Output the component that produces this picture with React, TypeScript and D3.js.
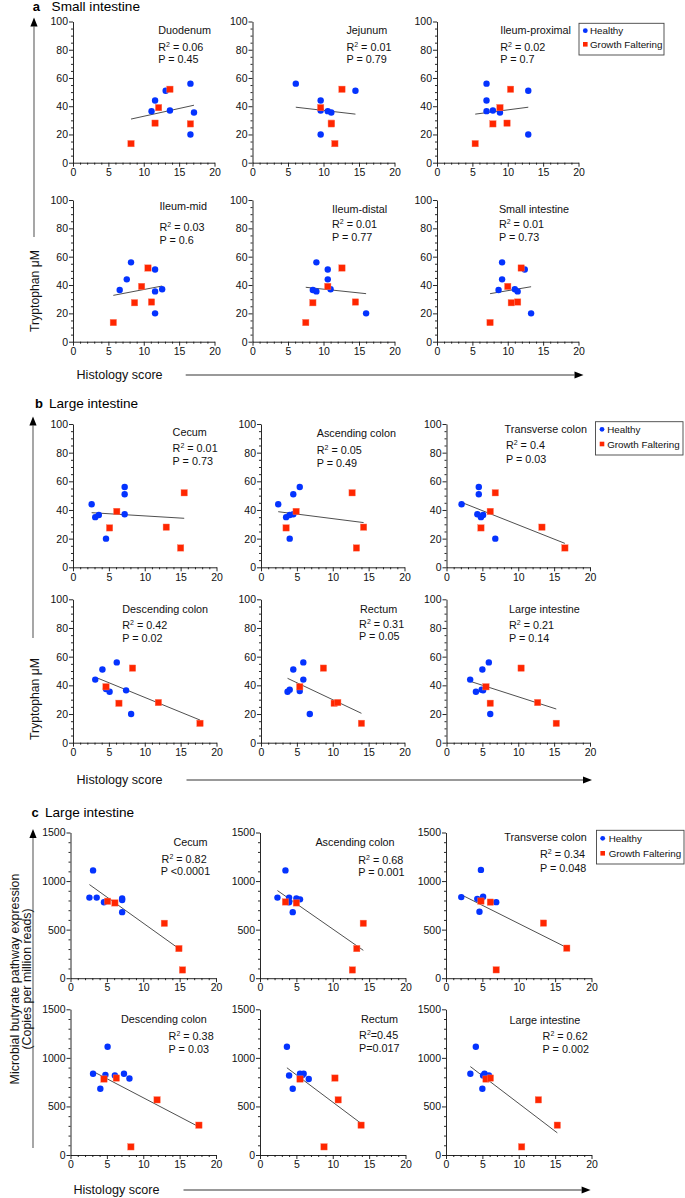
import React, { useEffect, useRef } from 'react';
import * as d3 from 'd3';

type Pt = [number, number];

// ---- a: tryptophan (uM) vs histology score, small intestine ----
const duodenumHealthy: Pt[] = [[11.1, 36.5], [11.6, 44], [13.1, 51], [13.7, 37], [16.6, 56], [17.1, 35.5], [16.6, 20]];
const duodenumFaltering: Pt[] = [[8.2, 13.5], [11.6, 28], [12.1, 39], [13.7, 52], [16.6, 27.5]];
const duodenumFit: Pt[] = [[8.2, 30.9], [17.1, 40.7]];

const jejunumHealthy: Pt[] = [[6.1, 56], [9.6, 44], [9.6, 37], [10.6, 36.5], [11.1, 35.5], [9.6, 20], [14.5, 51]];
const jejunumFaltering: Pt[] = [[9.6, 39], [11.1, 28], [11.1, 27.5], [11.6, 13.5], [12.6, 52]];
const jejunumFit: Pt[] = [[6.1, 39.3], [14.5, 34.4]];

const ileumProxHealthy: Pt[] = [[7.0, 56], [7.0, 44], [7.0, 36.5], [7.9, 37], [8.9, 35.5], [12.9, 51], [12.9, 20]];
const ileumProxFaltering: Pt[] = [[5.4, 13.5], [7.9, 27.5], [8.9, 39], [9.9, 28], [10.4, 52]];
const ileumProxFit: Pt[] = [[5.4, 34.4], [12.9, 39.3]];

const ileumMidHealthy: Pt[] = [[8.2, 56], [7.6, 44], [6.6, 36.5], [11.6, 51], [12.6, 37], [11.6, 35.5], [11.6, 20]];
const ileumMidFaltering: Pt[] = [[5.7, 13.5], [8.7, 27.5], [9.7, 39], [10.6, 52], [11.1, 28]];
const ileumMidFit: Pt[] = [[5.7, 32.7], [12.6, 39.3]];

const ileumDistHealthy: Pt[] = [[9.0, 56], [8.5, 36.5], [9.0, 35.5], [10.6, 51], [10.6, 44], [11.0, 37], [16.0, 20]];
const ileumDistFaltering: Pt[] = [[7.5, 13.5], [8.5, 27.5], [10.6, 39], [12.6, 52], [14.5, 28]];
const ileumDistFit: Pt[] = [[7.5, 38.4], [16.0, 33.9]];

const smallIntHealthy: Pt[] = [[8.7, 36.5], [9.2, 56], [9.2, 44], [11.0, 37], [11.4, 35.5], [12.4, 51], [13.3, 20]];
const smallIntFaltering: Pt[] = [[7.5, 13.5], [10.0, 39], [10.5, 27.5], [11.4, 28], [11.9, 52]];
const smallIntFit: Pt[] = [[7.5, 33.9], [13.3, 38.8]];

// ---- b: tryptophan (uM) vs histology score, large intestine ----
const cecumTrpHealthy: Pt[] = [[2.6, 44], [3.1, 35], [3.6, 36.5], [4.6, 20], [7.2, 56], [7.2, 51], [7.2, 37]];
const cecumTrpFaltering: Pt[] = [[5.1, 27.5], [6.1, 39], [13.0, 28], [15.0, 13.5], [15.5, 52]];
const cecumTrpFit: Pt[] = [[2.6, 38.1], [15.5, 34.2]];

const ascTrpHealthy: Pt[] = [[2.4, 44], [3.5, 35], [4.0, 36.5], [4.5, 37], [4.5, 51], [5.4, 56], [4.0, 20]];
const ascTrpFaltering: Pt[] = [[3.5, 27.5], [4.9, 39], [12.7, 52], [13.3, 13.5], [14.3, 28]];
const ascTrpFit: Pt[] = [[2.4, 38.8], [14.3, 31.2]];

const transTrpHealthy: Pt[] = [[2.1, 44], [4.5, 56], [4.5, 51], [4.3, 37], [4.8, 35], [5.1, 36.5], [6.8, 20]];
const transTrpFaltering: Pt[] = [[4.8, 27.5], [6.1, 39], [6.8, 52], [13.3, 28], [16.5, 13.5]];
const transTrpFit: Pt[] = [[2.1, 45.3], [16.5, 16.7]];

const descTrpHealthy: Pt[] = [[3.1, 44], [4.1, 51], [6.1, 56], [4.6, 37.5], [5.1, 35.5], [7.4, 36.5], [8.1, 20]];
const descTrpFaltering: Pt[] = [[4.6, 39], [6.4, 27.5], [8.3, 52], [11.9, 28], [17.7, 13.5]];
const descTrpFit: Pt[] = [[3.5, 44.9], [17.7, 15.8]];

const rectumTrpHealthy: Pt[] = [[3.7, 35.5], [4.0, 37], [4.5, 51], [5.4, 36], [5.9, 56], [5.9, 44], [6.8, 20]];
const rectumTrpFaltering: Pt[] = [[5.4, 39], [8.7, 52], [10.2, 27.5], [10.7, 28], [14.0, 13.5]];
const rectumTrpFit: Pt[] = [[3.7, 44.9], [14.0, 20.5]];

const largeTrpHealthy: Pt[] = [[3.3, 44], [4.1, 35.5], [5.0, 51], [5.1, 36.5], [4.9, 37], [5.9, 56], [6.1, 20]];
const largeTrpFaltering: Pt[] = [[5.5, 39], [6.1, 27.5], [10.4, 52], [12.7, 28], [15.3, 13.5]];
const largeTrpFit: Pt[] = [[3.3, 42.8], [15.3, 23.5]];

// ---- c: butyrate pathway (copies per million reads) vs histology score ----
const cecumButHealthy: Pt[] = [[2.6, 830], [3.1, 1110], [3.6, 830], [4.6, 782], [7.1, 820], [7.1, 680], [7.1, 805]];
const cecumButFaltering: Pt[] = [[5.1, 792], [6.1, 775], [12.9, 565], [14.9, 305], [15.4, 85]];
const cecumButFit: Pt[] = [[2.6, 964], [14.9, 304]];

const ascButHealthy: Pt[] = [[2.4, 830], [3.5, 1110], [4.0, 830], [4.0, 782], [4.5, 680], [5.0, 820], [5.5, 812]];
const ascButFaltering: Pt[] = [[3.5, 785], [5.0, 775], [13.3, 305], [14.2, 565], [12.7, 85]];
const ascButFit: Pt[] = [[2.4, 902], [14.2, 287]];

const transButHealthy: Pt[] = [[2.1, 835], [4.8, 1115], [4.3, 817], [5.1, 838], [4.6, 684], [6.9, 783], [4.8, 800]];
const transButFaltering: Pt[] = [[4.8, 794], [6.1, 783], [13.4, 567], [16.6, 309], [6.9, 86]];
const transButFit: Pt[] = [[2.1, 859], [16.6, 315]];

const descButHealthy: Pt[] = [[3.1, 836], [4.1, 682], [4.8, 825], [5.1, 1115], [6.1, 818], [7.35, 836], [8.1, 788]];
const descButFaltering: Pt[] = [[4.6, 782], [6.3, 792], [11.9, 568], [17.65, 307], [8.3, 84]];
const descButFit: Pt[] = [[3.1, 860], [17.65, 290]];

const rectumButHealthy: Pt[] = [[3.7, 1115], [4.0, 818], [4.5, 682], [5.5, 836], [6.0, 836], [6.7, 782], [5.8, 820]];
const rectumButFaltering: Pt[] = [[5.5, 782], [10.3, 792], [10.75, 568], [13.9, 307], [8.8, 84]];
const rectumButFit: Pt[] = [[3.7, 898], [13.9, 325]];

const largeButHealthy: Pt[] = [[3.35, 836], [4.1, 1115], [5.0, 682], [5.1, 818], [5.3, 836], [5.9, 818], [5.6, 800]];
const largeButFaltering: Pt[] = [[5.5, 782], [6.1, 792], [12.7, 568], [15.3, 307], [10.4, 84]];
const largeButFit: Pt[] = [[3.35, 910], [15.3, 228]];

const xTicks = [0, 5, 10, 15, 20];
const trpTicks = [0, 20, 40, 60, 80, 100];
const butTicks = [0, 500, 1000, 1500];
const legendLabels = ['Healthy', 'Growth Faltering'];

const FONT = '"Liberation Sans", Arial, Helvetica, sans-serif';
const BLUE = '#0433ff';
const RED = '#ff2600';

interface PanelDef {
  title: string;
  healthy: Pt[];
  faltering: Pt[];
  fit: Pt[];
  r2: string;
  p: string;
}

// pixel box of each panel and text offsets from the panel's top-left
interface PanelBox {
  x0: number;
  top: number;
  w: number;
  h: number;
  title: [number, number];
  r2: [number, number];
  p: [number, number];
}

const panelsA: PanelDef[] = [
  { title: 'Duodenum', healthy: duodenumHealthy, faltering: duodenumFaltering, fit: duodenumFit, r2: ' = 0.06', p: 'P = 0.45' },
  { title: 'Jejunum', healthy: jejunumHealthy, faltering: jejunumFaltering, fit: jejunumFit, r2: ' = 0.01', p: 'P = 0.79' },
  { title: 'Ileum-proximal', healthy: ileumProxHealthy, faltering: ileumProxFaltering, fit: ileumProxFit, r2: ' = 0.02', p: 'P = 0.7' },
  { title: 'Ileum-mid', healthy: ileumMidHealthy, faltering: ileumMidFaltering, fit: ileumMidFit, r2: ' = 0.03', p: 'P = 0.6' },
  { title: 'Ileum-distal', healthy: ileumDistHealthy, faltering: ileumDistFaltering, fit: ileumDistFit, r2: ' = 0.01', p: 'P = 0.77' },
  { title: 'Small intestine', healthy: smallIntHealthy, faltering: smallIntFaltering, fit: smallIntFit, r2: ' = 0.01', p: 'P = 0.73' },
];

const panelsB: PanelDef[] = [
  { title: 'Cecum', healthy: cecumTrpHealthy, faltering: cecumTrpFaltering, fit: cecumTrpFit, r2: ' = 0.01', p: 'P = 0.73' },
  { title: 'Ascending colon', healthy: ascTrpHealthy, faltering: ascTrpFaltering, fit: ascTrpFit, r2: ' = 0.05', p: 'P = 0.49' },
  { title: 'Transverse colon', healthy: transTrpHealthy, faltering: transTrpFaltering, fit: transTrpFit, r2: ' = 0.4', p: 'P = 0.03' },
  { title: 'Descending colon', healthy: descTrpHealthy, faltering: descTrpFaltering, fit: descTrpFit, r2: ' = 0.42', p: 'P = 0.02' },
  { title: 'Rectum', healthy: rectumTrpHealthy, faltering: rectumTrpFaltering, fit: rectumTrpFit, r2: ' = 0.31', p: 'P = 0.05' },
  { title: 'Large intestine', healthy: largeTrpHealthy, faltering: largeTrpFaltering, fit: largeTrpFit, r2: ' = 0.21', p: 'P = 0.14' },
];

const panelsC: PanelDef[] = [
  { title: 'Cecum', healthy: cecumButHealthy, faltering: cecumButFaltering, fit: cecumButFit, r2: ' = 0.82', p: 'P <0.0001' },
  { title: 'Ascending colon', healthy: ascButHealthy, faltering: ascButFaltering, fit: ascButFit, r2: ' = 0.68', p: 'P = 0.001' },
  { title: 'Transverse colon', healthy: transButHealthy, faltering: transButFaltering, fit: transButFit, r2: ' = 0.34', p: 'P = 0.048' },
  { title: 'Descending colon', healthy: descButHealthy, faltering: descButFaltering, fit: descButFit, r2: ' = 0.38', p: 'P = 0.03' },
  { title: 'Rectum', healthy: rectumButHealthy, faltering: rectumButFaltering, fit: rectumButFit, r2: '=0.45', p: 'P=0.017' },
  { title: 'Large intestine', healthy: largeButHealthy, faltering: largeButFaltering, fit: largeButFit, r2: ' = 0.62', p: 'P = 0.002' },
];

const boxesA: PanelBox[] = [
  { x0: 73, top: 21.5, w: 141.5, h: 141.2, title: [85.2, 9.2], r2: [85.2, 25.5], p: [85.2, 38.2] },
  { x0: 252.5, top: 21.5, w: 142, h: 141.2, title: [93.9, 9.2], r2: [93.9, 25.5], p: [93.9, 38.2] },
  { x0: 437, top: 21.5, w: 141.5, h: 141.2, title: [63.2, 9.2], r2: [63.2, 25.5], p: [63.2, 38.2] },
  { x0: 73, top: 200, w: 141.5, h: 141.7, title: [86.5, 6.7], r2: [86.5, 27.3], p: [86.5, 40] },
  { x0: 252.5, top: 200, w: 142, h: 141.7, title: [79.5, 9.3], r2: [79.5, 24.7], p: [79.5, 37.3] },
  { x0: 437, top: 200, w: 141.5, h: 141.7, title: [61.9, 9.3], r2: [61.9, 24.7], p: [61.9, 37.3] },
];

const boxesB: PanelBox[] = [
  { x0: 73, top: 424, w: 143.5, h: 143.3, title: [99.6, 8.7], r2: [99.6, 24.3], p: [99.6, 37] },
  { x0: 261, top: 424, w: 143.5, h: 143.3, title: [55.7, 9.3], r2: [55.7, 26.7], p: [55.7, 39.3] },
  { x0: 446.5, top: 424, w: 143.5, h: 143.3, title: [58.1, 5], r2: [59.4, 21.7], p: [59.4, 35] },
  { x0: 73, top: 599.3, w: 143.5, h: 143.4, title: [49.3, 9.7], r2: [49.3, 26], p: [49.3, 39.4] },
  { x0: 261, top: 599.3, w: 143.5, h: 143.4, title: [99, 9.7], r2: [98.1, 24.7], p: [98.1, 37.4] },
  { x0: 446.5, top: 599.3, w: 143.5, h: 143.4, title: [62.5, 9.7], r2: [62.5, 26], p: [62.5, 39.4] },
];

const boxesC: PanelBox[] = [
  { x0: 70.5, top: 832.5, w: 145.5, h: 145.7, title: [102.9, 10.2], r2: [91.1, 26.5], p: [90.3, 39.2] },
  { x0: 260, top: 832.5, w: 145.5, h: 145.7, title: [55.4, 10.2], r2: [98.2, 27.5], p: [98.2, 39.8] },
  { x0: 446, top: 832.5, w: 145.5, h: 145.7, title: [58.3, 5.2], r2: [94, 21.8], p: [94, 35.8] },
  { x0: 70.5, top: 1009.3, w: 145.5, h: 145.7, title: [50.5, 10], r2: [98.1, 27.4], p: [98.1, 40] },
  { x0: 260, top: 1009.3, w: 145.5, h: 145.7, title: [100.9, 10], r2: [99.1, 26.4], p: [99.1, 39.4] },
  { x0: 446, top: 1009.3, w: 145.5, h: 145.7, title: [63.4, 10.7], r2: [96.6, 27.4], p: [96.6, 40] },
];

type G = d3.Selection<SVGGElement, unknown, null, undefined>;

function drawPanel(root: G, def: PanelDef, box: PanelBox, yTicks: number[], yMinorStep: number) {
  const yMax = yTicks[yTicks.length - 1];
  const x = d3.scaleLinear().domain([0, 20]).range([box.x0, box.x0 + box.w]);
  const y = d3.scaleLinear().domain([0, yMax]).range([box.top + box.h, box.top]);
  const g = root.append('g');

  const xMinor = d3.range(0, 21, 1).filter((v) => !xTicks.includes(v));
  const yMinor = d3.range(0, yMax + 1, yMinorStep).filter((v) => !yTicks.includes(v));

  // minor ticks
  g.append('g')
    .attr('transform', `translate(0,${y(0)})`)
    .call(d3.axisBottom(x).tickValues(xMinor).tickSize(2).tickSizeOuter(0).tickFormat(() => ''))
    .call((s) => s.select('.domain').remove());
  g.append('g')
    .attr('transform', `translate(${x(0)},0)`)
    .call(d3.axisLeft(y).tickValues(yMinor).tickSize(2).tickSizeOuter(0).tickFormat(() => ''))
    .call((s) => s.select('.domain').remove());

  // major axes
  g.append('g')
    .attr('transform', `translate(0,${y(0)})`)
    .call(d3.axisBottom(x).tickValues(xTicks).tickSize(4).tickSizeOuter(0).tickPadding(1.8).tickFormat(d3.format('d')))
    .attr('font-family', FONT)
    .attr('font-size', 10.5);
  g.append('g')
    .attr('transform', `translate(${x(0)},0)`)
    .call(d3.axisLeft(y).tickValues(yTicks).tickSize(4).tickSizeOuter(0).tickPadding(1).tickFormat(d3.format('d')))
    .attr('font-family', FONT)
    .attr('font-size', 10.5);
  g.selectAll('.tick line, .domain').attr('stroke', '#111').attr('stroke-width', 0.9);
  g.selectAll('.tick text').attr('fill', '#111');

  // regression line
  g.append('line')
    .attr('x1', x(def.fit[0][0]))
    .attr('y1', y(def.fit[0][1]))
    .attr('x2', x(def.fit[1][0]))
    .attr('y2', y(def.fit[1][1]))
    .attr('stroke', '#222')
    .attr('stroke-width', 0.8);

  g.selectAll('circle.h')
    .data(def.healthy)
    .enter()
    .append('circle')
    .attr('class', 'h')
    .attr('cx', (d) => x(d[0]))
    .attr('cy', (d) => y(d[1]))
    .attr('r', 3.2)
    .attr('fill', BLUE);

  const s = 6.4;
  g.selectAll('rect.f')
    .data(def.faltering)
    .enter()
    .append('rect')
    .attr('class', 'f')
    .attr('x', (d) => x(d[0]) - s / 2)
    .attr('y', (d) => y(d[1]) - s / 2)
    .attr('width', s)
    .attr('height', s)
    .attr('fill', RED)
    .attr('stroke', '#ff7a60')
    .attr('stroke-width', 0.4);

  // annotations
  const fs = 10.8;
  const base = 0.35 * fs;
  g.append('text')
    .attr('x', box.x0 + box.title[0])
    .attr('y', box.top + box.title[1] + base)
    .attr('font-family', FONT)
    .attr('font-size', fs)
    .attr('fill', '#111')
    .text(def.title);

  const r2 = g
    .append('text')
    .attr('x', box.x0 + box.r2[0])
    .attr('y', box.top + box.r2[1] + base)
    .attr('font-family', FONT)
    .attr('font-size', fs)
    .attr('fill', '#111');
  r2.append('tspan').text('R');
  r2.append('tspan').attr('font-size', 7).attr('dy', -4.2).text('2');
  r2.append('tspan').attr('dy', 4.2).text(def.r2);

  g.append('text')
    .attr('x', box.x0 + box.p[0])
    .attr('y', box.top + box.p[1] + base)
    .attr('font-family', FONT)
    .attr('font-size', fs)
    .attr('fill', '#111')
    .text(def.p);
}

function drawLegend(root: G, left: number, top: number, right: number, bottom: number, markX: number, textX: number, rows: number[]) {
  const g = root.append('g');
  g.append('rect')
    .attr('x', left)
    .attr('y', top)
    .attr('width', right - left)
    .attr('height', bottom - top)
    .attr('fill', 'white')
    .attr('stroke', '#444')
    .attr('stroke-width', 0.9);
  legendLabels.forEach((label, i) => {
    if (i === 0) {
      g.append('circle').attr('cx', markX).attr('cy', rows[i]).attr('r', 2.4).attr('fill', BLUE);
    } else {
      g.append('rect')
        .attr('x', markX - 2.3)
        .attr('y', rows[i] - 2.3)
        .attr('width', 4.6)
        .attr('height', 4.6)
        .attr('fill', RED);
    }
    g.append('text')
      .attr('x', textX)
      .attr('y', rows[i] + 3.5)
      .attr('font-family', FONT)
      .attr('font-size', 9.8)
      .attr('fill', '#111')
      .text(label);
  });
}

function drawArrow(root: G, x1: number, y1: number, x2: number, y2: number) {
  const ang = Math.atan2(y2 - y1, x2 - x1);
  const len = 9;
  const half = 3.6;
  const bx = x2 - len * Math.cos(ang);
  const by = y2 - len * Math.sin(ang);
  root
    .append('line')
    .attr('x1', x1)
    .attr('y1', y1)
    .attr('x2', bx)
    .attr('y2', by)
    .attr('stroke', '#777')
    .attr('stroke-width', 1.3);
  const px = -Math.sin(ang) * half;
  const py = Math.cos(ang) * half;
  root
    .append('path')
    .attr('d', `M${x2},${y2}L${bx + px},${by + py}L${bx - px},${by - py}Z`)
    .attr('fill', '#000');
}

function drawHeading(root: G, x: number, cy: number, letter: string, textX: number, label: string) {
  root
    .append('text')
    .attr('x', x)
    .attr('y', cy + 4.7)
    .attr('font-family', FONT)
    .attr('font-size', 13)
    .attr('font-weight', 'bold')
    .text(letter);
  root
    .append('text')
    .attr('x', textX)
    .attr('y', cy + 4.9)
    .attr('font-family', FONT)
    .attr('font-size', 13.6)
    .text(label);
}

function label(root: G, x: number, y: number, text: string, size: number, rotate = false, anchor = 'start') {
  root
    .append('text')
    .attr('transform', rotate ? `translate(${x},${y}) rotate(-90)` : `translate(${x},${y})`)
    .attr('text-anchor', anchor)
    .attr('dominant-baseline', 'central')
    .attr('font-family', FONT)
    .attr('font-size', size)
    .attr('fill', '#111')
    .text(text);
}

export default function App() {
  const svgRef = useRef<SVGSVGElement>(null);

  useEffect(() => {
    document.body.style.margin = '0';
    if (!svgRef.current) return;
    const svg = d3.select(svgRef.current);
    svg.selectAll('*').remove();
    const root = svg.append('g') as G;

    panelsA.forEach((p, i) => drawPanel(root, p, boxesA[i], trpTicks, 5));
    panelsB.forEach((p, i) => drawPanel(root, p, boxesB[i], trpTicks, 5));
    panelsC.forEach((p, i) => drawPanel(root, p, boxesC[i], butTicks, 100));

    drawHeading(root, 32.8, 6, 'a', 51.6, 'Small intestine');
    drawHeading(root, 35, 403.3, 'b', 49, 'Large intestine');
    drawHeading(root, 31.5, 812.3, 'c', 45, 'Large intestine');

    drawLegend(root, 579, 23.3, 664, 55, 585.3, 590, [30.7, 44.3]);
    drawLegend(root, 595.5, 421.7, 683, 455, 602, 607.2, [429.3, 444]);
    drawLegend(root, 596.5, 830.3, 684, 864, 602.7, 608.7, [838.3, 853.3]);

    // y-axis arrows and labels
    drawArrow(root, 34, 237, 34, 17.5);
    label(root, 35, 291, 'Tryptophan μM', 12.2, true, 'middle');
    drawArrow(root, 33, 638, 33, 416.5);
    label(root, 35, 699, 'Tryptophan μM', 12.2, true, 'middle');
    drawArrow(root, 33, 1148, 33, 829);
    label(root, 14.5, 979, 'Microbial butyrate pathway expression', 12.4, true, 'middle');
    label(root, 27, 979, '(Copies per million reads)', 12.4, true, 'middle');

    // x-axis arrows and labels
    label(root, 76.5, 375, 'Histology score', 12.6);
    drawArrow(root, 185.7, 375, 583.5, 375);
    label(root, 76.5, 780, 'Histology score', 12.6);
    drawArrow(root, 186.5, 780, 592, 780);
    label(root, 73.4, 1190, 'Histology score', 12.6);
    drawArrow(root, 183.5, 1190, 590.6, 1190);
  }, []);

  return <svg ref={svgRef} width={685} height={1198} style={{ display: 'block', background: 'white' }} />;
}
